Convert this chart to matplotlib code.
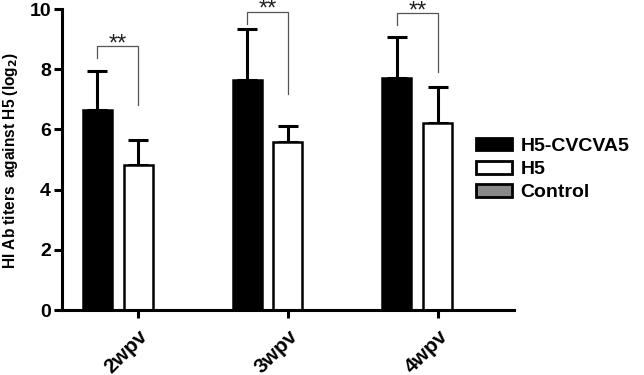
import numpy as np
import matplotlib.pyplot as plt

plt.rcParams['font.family'] = ['Liberation Sans', 'DejaVu Sans']
plt.rcParams['font.weight'] = 'bold'

# data
groups = ['2wpv', '3wpv', '4wpv']
series = ['H5-CVCVA5', 'H5', 'Control']
means = {
    'H5-CVCVA5': [6.65, 7.65, 7.70],
    'H5': [4.82, 5.58, 6.20],
    'Control': [0.0, 0.0, 0.0],
}
sds = {
    'H5-CVCVA5': [1.30, 1.68, 1.38],
    'H5': [0.83, 0.54, 1.21],
    'Control': [0.0, 0.0, 0.0],
}
colors = {'H5-CVCVA5': 'black', 'H5': 'white', 'Control': '#888888'}
# significance brackets: (bracket height, left leg end, right leg end)
sig_top = [8.77, 9.91, 9.86]
sig_left = [8.37, 9.50, 9.47]
sig_right = [6.81, 7.18, 7.90]

fig = plt.figure(figsize=(6.44, 3.75), dpi=100)
ax = fig.add_axes([0.0963, 0.1733, 0.7017, 0.8027])

x = np.arange(len(groups))
offset = 0.273
width = 0.193
for i, s in enumerate(series):
    pos = x + (i - 1) * offset
    ax.bar(pos, means[s], width, color=colors[s], edgecolor='black', linewidth=1.8,
           label=s, zorder=2)
    if s != 'Control':
        ax.errorbar(pos, means[s], yerr=[np.zeros(3), sds[s]], fmt='none',
                    ecolor='black', elinewidth=2.2, capsize=7, capthick=2.2, zorder=1)

for i in range(len(groups)):
    xl = x[i] - offset
    xr = x[i]
    ax.plot([xl, xl, xr, xr], [sig_left[i], sig_top[i], sig_top[i], sig_right[i]],
            color='#555555', lw=0.9, zorder=3, clip_on=False)
    ax.text((xl + xr) / 2, sig_top[i] - 0.3, '**', ha='center', va='bottom',
            fontsize=17, fontweight='normal', color='#222222', clip_on=False)

ax.set_xlim(-0.507, 2.507)
ax.set_ylim(0, 10)
ax.set_yticks([0, 2, 4, 6, 8, 10])
ax.set_xticks(x)
ax.set_xticklabels(groups, rotation=45, ha='right', rotation_mode='anchor',
                   fontsize=15, fontweight='bold')
for lab in ax.get_yticklabels():
    lab.set_fontsize(14)
    lab.set_fontweight('bold')
ax.spines['top'].set_visible(False)
ax.spines['right'].set_visible(False)
ax.spines['left'].set_linewidth(2.2)
ax.spines['bottom'].set_linewidth(2.2)
ax.tick_params(axis='both', width=2.2, length=6, direction='out', pad=2)
ax.tick_params(axis='x', pad=6)
ax.set_ylabel('HI Ab titers  against H5 (log$_2$)', fontsize=11.2, fontweight='bold')
ax.yaxis.set_label_coords(-0.094, 0.495)

leg = fig.legend(loc='center left', bbox_to_anchor=(0.739, 0.548), frameon=False,
                 prop={'size': 14, 'weight': 'bold'}, handlelength=1.85, handleheight=0.62,
                 handletextpad=0.45, labelspacing=0.32, borderaxespad=0, borderpad=0)
for h in leg.legend_handles:
    h.set_linewidth(2)

fig.savefig('out.png', dpi=100)
